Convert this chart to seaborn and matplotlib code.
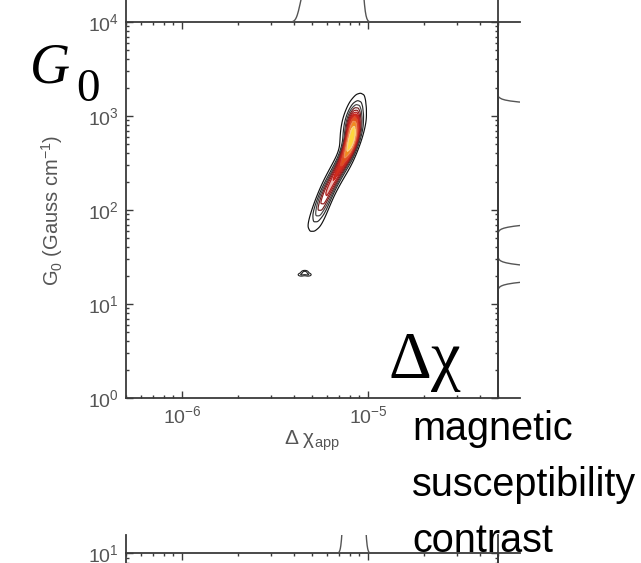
import numpy as np
import pandas as pd
import matplotlib
matplotlib.use("Agg")
import matplotlib.pyplot as plt
import seaborn as sns
from matplotlib.colors import LinearSegmentedColormap, ListedColormap
from matplotlib.ticker import LogLocator, NullFormatter

# ---- data: weighted samples of (apparent susceptibility contrast, G0) ----
# main ridge: rows of four samples at increasing G0
dchi_main = [5.01e-6, 5.25e-6, 5.50e-6, 5.75e-6,
             5.13e-6, 5.37e-6, 5.62e-6, 5.89e-6,
             5.35e-6, 5.60e-6, 5.86e-6, 6.14e-6,
             5.56e-6, 5.82e-6, 6.10e-6, 6.38e-6,
             5.86e-6, 6.14e-6, 6.43e-6, 6.73e-6,
             6.22e-6, 6.52e-6, 6.82e-6, 7.14e-6,
             6.58e-6, 6.89e-6, 7.21e-6, 7.55e-6,
             7.00e-6, 7.33e-6, 7.67e-6, 8.04e-6,
             7.41e-6, 7.76e-6, 8.13e-6, 8.51e-6,
             7.64e-6, 8.00e-6, 8.38e-6, 8.77e-6,
             7.76e-6, 8.13e-6, 8.51e-6, 8.91e-6,
             7.76e-6, 8.13e-6, 8.51e-6, 8.91e-6,
             7.73e-6, 8.09e-6, 8.47e-6, 8.87e-6,
             7.67e-6, 8.04e-6, 8.41e-6, 8.81e-6]
g0_main = [83.2, 83.2, 83.2, 83.2,
           100.0, 100.0, 100.0, 100.0,
           123.0, 123.0, 123.0, 123.0,
           151.4, 151.4, 151.4, 151.4,
           186.2, 186.2, 186.2, 186.2,
           229.1, 229.1, 229.1, 229.1,
           281.8, 281.8, 281.8, 281.8,
           346.7, 346.7, 346.7, 346.7,
           426.6, 426.6, 426.6, 426.6,
           524.8, 524.8, 524.8, 524.8,
           645.7, 645.7, 645.7, 645.7,
           794.3, 794.3, 794.3, 794.3,
           955.0, 955.0, 955.0, 955.0,
           1122, 1122, 1122, 1122]
w_main = [0.42, 0.70, 0.70, 0.42,
          0.57, 0.95, 0.95, 0.57,
          0.66, 1.10, 1.10, 0.66,
          0.72, 1.20, 1.20, 0.72,
          0.75, 1.25, 1.25, 0.75,
          0.78, 1.30, 1.30, 0.78,
          0.81, 1.35, 1.35, 0.81,
          0.90, 1.50, 1.50, 0.90,
          1.08, 1.80, 1.80, 1.08,
          1.44, 2.40, 2.40, 1.44,
          1.56, 2.60, 2.60, 1.56,
          1.38, 2.30, 2.30, 1.38,
          1.02, 1.70, 1.70, 1.02,
          0.72, 1.20, 1.20, 0.72]
# small isolated cluster
dchi_blob = [4.37e-6, 4.57e-6, 4.77e-6, 4.57e-6]
g0_blob = [20.5, 22.0, 20.5, 21.2]
w_blob = [0.7, 0.7, 0.7, 0.7]
# lower panel (only its top edge is visible)
dchi_lower = [7.6e-6, 8.0e-6, 8.3e-6, 8.5e-6, 8.7e-6, 9.0e-6, 9.3e-6]

xlim = (5e-7, 5e-5)
ylim = (1, 1e4)

sns.set_theme(style="white")
plt.rcParams["font.family"] = ["Liberation Sans", "DejaVu Sans"]
plt.rcParams["mathtext.default"] = "regular"
plt.rcParams["mathtext.fontset"] = "custom"
plt.rcParams["mathtext.rm"] = "Liberation Serif"
plt.rcParams["mathtext.it"] = "Liberation Serif:italic"

W, H = 641, 563
fig = plt.figure(figsize=(W / 100, H / 100), dpi=100)
fig.patch.set_facecolor("white")


def rect(x0, y0, x1, y1):
    return [x0 / W, 1 - y1 / H, (x1 - x0) / W, (y1 - y0) / H]


spine_c = "#3a3a3a"
label_c = "#555555"


def style_main(a):
    for s in a.spines.values():
        s.set_color(spine_c)
        s.set_linewidth(1.3)
    a.tick_params(which="both", direction="in", top=True, right=True,
                  bottom=True, left=True, color=spine_c, labelcolor=label_c,
                  labelsize=14, width=1.0, pad=5)
    a.tick_params(which="major", length=5)
    a.tick_params(which="minor", length=2.5)
    for axis in (a.xaxis, a.yaxis):
        axis.set_major_locator(LogLocator(base=10, numticks=20))
        axis.set_minor_locator(LogLocator(base=10, subs=np.arange(2, 10), numticks=20))
        axis.set_minor_formatter(NullFormatter())


def style_marg(a, show):
    a.patch.set_alpha(0)
    for k, s in a.spines.items():
        s.set_visible(k in show)
        s.set_color(spine_c)
        s.set_linewidth(1.3)
    a.tick_params(which="both", length=0, labelbottom=False, labelleft=False)
    a.set_xlabel("")
    a.set_ylabel("")


# ---- main joint panel ----
ax = fig.add_axes(rect(126, 22, 498, 398))
df = pd.DataFrame({"dchi": dchi_main, "g0": g0_main, "w": w_main})
fill_cmap = LinearSegmentedColormap.from_list(
    "fill", [(0.0, "#ffffff"), (0.5, "#ffffff"), (0.6, "#d42a1e"),
             (0.74, "#e55a1a"), (0.86, "#f5a020"), (0.95, "#ffdc40"),
             (1.0, "#fff6b8")])
sns.kdeplot(data=df, x="dchi", y="g0", weights="w", log_scale=True, fill=True,
            levels=11, thresh=0.04, cmap=fill_cmap, bw_adjust=0.7, ax=ax)
line_cmap = ListedColormap(["#111111", "#2a2a2a", "#444444", "#6a2020", "#901c1c",
                            "#b01e1e", "#c82820", "#d84a30", "#ec8a58", "#f8cc90",
                            "#ffffff"])
sns.kdeplot(data=df, x="dchi", y="g0", weights="w", log_scale=True, fill=False,
            levels=11, thresh=0.04, cmap=line_cmap, linewidths=0.85,
            bw_adjust=0.7, ax=ax)
sns.kdeplot(x=dchi_blob, y=g0_blob, fill=False, levels=3, thresh=0.2,
            color="#222222", linewidths=0.8, ax=ax)
ax.set_xlim(*xlim)
ax.set_ylim(*ylim)
style_main(ax)
ax.set_xlabel(r"$\Delta\ \chi_{app}$", color=label_c, fontsize=15)
ax.set_ylabel(r"G$_0$ (Gauss cm$^{-1}$)", color=label_c, fontsize=14.5)
ax.xaxis.set_label_coords(0.5, -0.08)
ax.yaxis.set_label_coords(-0.165, 0.5)

dchi_all = dchi_main + dchi_blob
g0_all = g0_main + g0_blob
w_all = w_main + w_blob

# ---- top marginal (only its base is visible) ----
ax_t = fig.add_axes(rect(126, 0, 498, 22), sharex=ax)
sns.kdeplot(x=dchi_all, weights=w_all, log_scale=True, color="#555555",
            linewidth=1.0, bw_adjust=0.5, ax=ax_t)
ymax = ax_t.get_lines()[0].get_ydata().max()
ax_t.set_ylim(0, ymax * 0.06)
ax_t.set_xlim(*xlim)
style_marg(ax_t, ["left", "right"])

# ---- right marginal (only its base is visible) ----
ax_r = fig.add_axes(rect(498, 22, 520, 398), sharey=ax)
sns.kdeplot(y=g0_all, weights=w_all, log_scale=True, color="#555555",
            linewidth=1.0, bw_adjust=0.25, ax=ax_r)
xmax = ax_r.get_lines()[0].get_xdata().max()
ax_r.set_xlim(0, xmax * 0.04)
ax_r.set_ylim(*ylim)
style_marg(ax_r, ["left", "top", "bottom"])

# ---- lower panel (only its top edge is visible) ----
ax_b = fig.add_axes(rect(126, 553, 498, 653))
ax_b.set_xscale("log")
ax_b.set_yscale("log")
ax_b.set_xlim(*xlim)
ax_b.set_ylim(1, 10)
style_main(ax_b)
ax_b.tick_params(labelbottom=False)

ax_bt = fig.add_axes(rect(126, 535, 498, 553), sharex=ax_b)
sns.kdeplot(x=dchi_lower, log_scale=True, color="#555555", linewidth=1.0,
            bw_adjust=0.6, ax=ax_bt)
ymax_b = ax_bt.get_lines()[0].get_ydata().max()
ax_bt.set_ylim(0, ymax_b * 0.08)
ax_bt.set_xlim(*xlim)
style_marg(ax_bt, ["left", "right"])

ax_br = fig.add_axes(rect(498, 553, 520, 653))
style_marg(ax_br, ["left", "top"])
ax_br.set_xticks([])
ax_br.set_yticks([])

# ---- annotations ----
serif = ["Liberation Serif", "DejaVu Serif"]
fig.text(30 / W, 1 - 83 / H, "G", fontsize=40, style="italic", family=serif,
         color="black", va="baseline")
fig.text(76 / W, 1 - 101 / H, "0", fontsize=34, family=serif,
         color="black", va="baseline")
fig.text(388 / W, 1 - 378 / H, r"$\mathrm{\Delta\chi}$", fontsize=48,
         color="black", va="baseline")
for txt, yb in [("magnetic", 440), ("susceptibility", 496), ("contrast", 552)]:
    fig.text(412 / W, 1 - yb / H, txt, fontsize=28.5, color="black",
             va="baseline", family=["Liberation Sans", "DejaVu Sans"])

fig.savefig("out.png", dpi=100, facecolor="white")
